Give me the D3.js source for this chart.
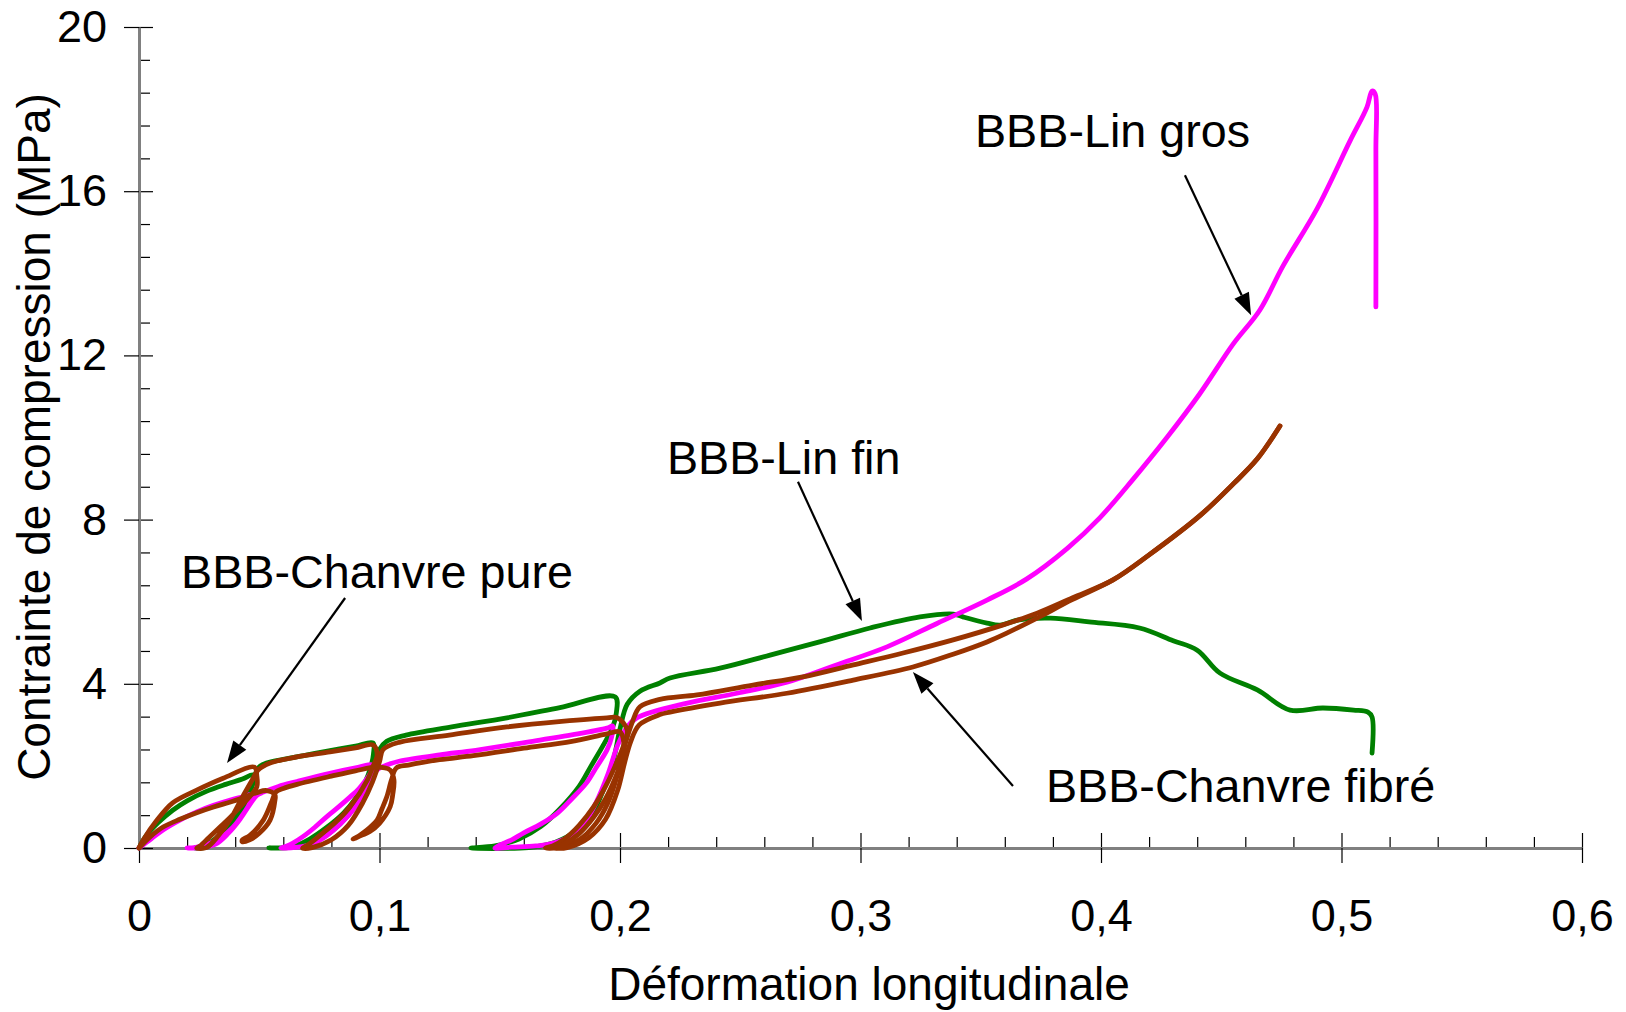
<!DOCTYPE html>
<html>
<head>
<meta charset="utf-8">
<script src="https://cdn.jsdelivr.net/npm/d3@7"></script>
<style>
  body { margin: 0; background: #fff; }
  svg { font-family: "Liberation Sans", Arial, sans-serif; }
  .axis path.domain { stroke: #808080; stroke-width: 3; }
  .axis line { stroke: #000; stroke-width: 1.2; }
  .axis text { font-size: 45px; fill: #000; }
</style>
</head>
<body>
<svg id="chart" width="1626" height="1012"></svg>
<script>
// strain, stress (MPa), in loading order (load / unload / reload)
const linFin = [
  [0,0],[0.003,0.3],[0.008,0.62],[0.014,0.92],[0.02,1.15],[0.028,1.38],[0.036,1.55],[0.043,1.68],[0.0474,1.78],
  [0.047,1.55],[0.044,1.15],[0.04,0.75],[0.035,0.4],[0.03,0.15],[0.026,0.03],[0.023,0],
  [0.027,0.01],[0.032,0.12],[0.038,0.45],[0.043,0.95],[0.047,1.5],[0.0495,1.95],[0.053,2.07],[0.06,2.16],
  [0.07,2.27],[0.08,2.38],[0.09,2.48],[0.0973,2.56],
  [0.0975,2.3],[0.0965,2.0],[0.094,1.6],[0.09,1.2],[0.085,0.85],[0.078,0.5],[0.071,0.22],[0.065,0.06],[0.06,0.01],[0.054,0],
  [0.062,0.01],[0.072,0.12],[0.08,0.4],[0.087,0.8],[0.093,1.35],[0.097,1.9],[0.1,2.4],[0.103,2.6],
  [0.111,2.75],[0.13,2.95],[0.153,3.17],[0.175,3.42],[0.198,3.68],
  [0.1985,3.3],[0.197,2.95],[0.193,2.5],[0.188,2.0],[0.183,1.5],[0.175,0.95],[0.167,0.52],[0.158,0.22],[0.148,0.05],[0.138,0],
  [0.162,0.01],[0.171,0.1],[0.18,0.35],[0.188,0.8],[0.193,1.4],[0.1975,2.2],[0.2,2.9],[0.203,3.5],[0.2083,3.82],
  [0.2166,4.02],[0.2208,4.14],[0.2416,4.38],[0.2624,4.7],[0.283,5.02],[0.304,5.36],[0.3247,5.63],[0.3385,5.7],
  [0.3426,5.63],[0.3526,5.48],[0.358,5.43],[0.366,5.56],[0.379,5.6],[0.395,5.51],[0.416,5.36],[0.43,5.05],
  [0.44,4.82],[0.4495,4.26],[0.465,3.85],[0.4786,3.36],[0.4923,3.41],[0.505,3.36],[0.511,3.31],[0.5127,3.19],[0.5127,2.31]
];

const linGros = [
  [0,0],[0.005,0.22],[0.01,0.44],[0.017,0.68],[0.024,0.88],[0.031,1.04],[0.038,1.17],[0.044,1.26],[0.046,1.3],
  [0.046,1.1],[0.043,0.8],[0.039,0.5],[0.034,0.25],[0.028,0.08],[0.023,0.01],[0.02,0],
  [0.026,0.01],[0.032,0.1],[0.037,0.35],[0.042,0.7],[0.046,1.05],[0.049,1.28],[0.0517,1.36],
  [0.058,1.5],[0.0657,1.62],[0.0794,1.82],[0.09,1.95],[0.097,2.02],
  [0.0965,1.85],[0.0915,1.45],[0.0877,1.24],[0.083,1.0],[0.078,0.76],[0.073,0.5],[0.068,0.27],[0.064,0.12],[0.0615,0.05],[0.059,0],
  [0.066,0.02],[0.072,0.1],[0.078,0.3],[0.084,0.6],[0.09,1.0],[0.095,1.5],[0.099,1.9],[0.1044,2.05],
  [0.1085,2.12],[0.125,2.27],[0.14,2.38],[0.1667,2.63],[0.1805,2.76],[0.1946,2.92],[0.197,2.97],
  [0.1965,2.7],[0.1946,2.39],[0.19,1.95],[0.186,1.58],[0.18,1.2],[0.174,0.85],[0.167,0.58],[0.16,0.37],[0.155,0.2],[0.15,0.07],[0.148,0],
  [0.155,0.02],[0.165,0.05],[0.171,0.1],[0.178,0.25],[0.185,0.6],[0.19,1.1],[0.195,1.8],[0.199,2.5],[0.203,2.95],[0.207,3.17],
  [0.228,3.53],[0.2486,3.77],[0.2694,4.04],[0.29,4.46],[0.311,4.9],[0.3318,5.47],[0.3526,6.04],[0.369,6.55],
  [0.386,7.3],[0.3996,8.05],[0.4133,8.98],[0.4274,10.0],[0.441,11.06],[0.455,12.28],[0.466,13.1],[0.4757,14.18],
  [0.4898,15.57],[0.5035,17.22],[0.5106,18.05],[0.5127,18.44],[0.514,18.37],[0.5143,16.98],[0.5143,13.18]
];

const chanvrePure = [
  [0,0],[0.0017,0.19],[0.0075,0.68],[0.014,1.1],[0.024,1.41],[0.035,1.7],[0.048,1.97],
  [0.049,1.75],[0.049,1.49],[0.046,1.25],[0.042,1.0],[0.038,0.75],[0.0337,0.51],[0.029,0.25],[0.0254,0.05],[0.024,0],
  [0.028,0.01],[0.033,0.3],[0.038,0.7],[0.043,1.24],[0.047,1.65],[0.0495,1.9],[0.0545,2.07],[0.0657,2.22],
  [0.0794,2.34],[0.09,2.44],[0.0973,2.51],
  [0.099,2.27],[0.097,1.95],[0.095,1.66],[0.0877,1.0],[0.083,0.7],[0.078,0.44],[0.073,0.2],[0.07,0.07],[0.068,0],
  [0.072,0.01],[0.08,0.2],[0.087,0.55],[0.093,1.1],[0.097,1.6],[0.1,2.1],[0.1015,2.4],[0.1085,2.58],[0.129,2.75],
  [0.153,2.95],[0.1946,3.17],[0.199,3.17],[0.203,2.87],
  [0.2015,2.5],[0.198,2.0],[0.194,1.5],[0.189,1.0],[0.183,0.55],[0.177,0.22],[0.172,0.05],[0.169,0],
  [0.174,0.01],[0.183,0.2],[0.19,0.6],[0.195,1.1],[0.199,1.8],[0.202,2.5],[0.205,3.05],[0.2083,3.44],[0.2166,3.62],
  [0.232,3.73],[0.2553,3.97],[0.276,4.17],[0.297,4.46],[0.3177,4.75],[0.3385,5.07],[0.359,5.43],[0.3734,5.72],
  [0.388,6.09],[0.405,6.53],[0.42,7.14],[0.441,8.09],[0.455,8.87],[0.465,9.48],[0.4744,10.28]
];

const chanvreFibre = [
  [0,0],[0.0046,0.27],[0.01,0.51],[0.017,0.7],[0.024,0.86],[0.031,1.0],[0.038,1.12],[0.043,1.22],[0.049,1.35],
  [0.053,1.4],[0.0565,1.3],
  [0.0565,1.15],[0.0545,0.68],[0.05,0.36],[0.046,0.2],[0.043,0.15],[0.043,0.2],
  [0.046,0.3],[0.0517,0.68],[0.055,1.1],[0.057,1.37],[0.06,1.45],
  [0.0657,1.55],[0.08,1.75],[0.09,1.88],[0.099,1.97],[0.1044,1.9],
  [0.106,1.66],[0.1055,1.3],[0.1044,1.0],[0.1,0.6],[0.096,0.4],[0.093,0.32],[0.089,0.22],
  [0.09,0.25],[0.092,0.32],[0.096,0.5],[0.099,0.68],[0.101,0.95],[0.103,1.24],[0.105,1.66],[0.107,1.95],
  [0.112,2.02],[0.125,2.15],[0.139,2.25],[0.16,2.43],[0.18,2.6],[0.1946,2.78],[0.2,2.83],
  [0.2015,2.6],[0.201,2.2],[0.198,1.7],[0.194,1.2],[0.189,0.75],[0.183,0.35],[0.177,0.1],[0.173,0],
  [0.178,0.01],[0.187,0.25],[0.194,0.7],[0.199,1.4],[0.202,2.1],[0.2045,2.6],[0.208,3.0],[0.2166,3.25],[0.2208,3.31],
  [0.2416,3.53],[0.2694,3.77],[0.297,4.09],[0.3218,4.41],[0.3385,4.72],[0.3526,5.02],[0.361,5.24],[0.3734,5.6],
  [0.388,6.05],[0.405,6.53],[0.42,7.14],[0.441,8.09],[0.455,8.87],[0.465,9.48],[0.4744,10.28]
];

const seriesNames = ["BBB-Lin fin", "BBB-Lin gros", "BBB-Chanvre pure", "BBB-Chanvre fibré"];
const seriesColors = ["#008000", "#ff00ff", "#993300", "#993300"];

const xTicks = [0, 0.1, 0.2, 0.3, 0.4, 0.5, 0.6];
const yTicks = [0, 4, 8, 12, 16, 20];

// annotations: label anchor and arrow (from -> tip), in data units
const labelNames = ["BBB-Lin gros", "BBB-Lin fin", "BBB-Chanvre pure", "BBB-Chanvre fibré"];
const labelPos = [[0.3476, 17.08], [0.2195, 9.11], [0.0175, 6.33], [0.3771, 1.12]];
const arrowFrom = [[0.4349, 16.39], [0.274, 8.92], [0.0857, 6.09], [0.3634, 1.51]];
const arrowTo = [[0.4624, 12.98], [0.3006, 5.53], [0.0366, 2.07], [0.3218, 4.29]];

const svg = d3.select("#chart");
svg.append("rect").attr("width", 1626).attr("height", 1012).attr("fill", "#fff");

const x = d3.scaleLinear().domain([0, 0.6]).range([139, 1582]);
const y = d3.scaleLinear().domain([0, 20]).range([848, 27]);

const fmt = d => d === 0 ? "0" : String(d3.format(".1f")(d)).replace(".", ",");
const yfmt = d => String(d);

// minor ticks
const xMinor = d3.range(0, 0.6001, 0.02).map(d => +d.toFixed(2)).filter(d => !xTicks.some(t => Math.abs(t - d) < 1e-6));
const yMinor = d3.range(0, 20.001, 0.8).map(d => +d.toFixed(1)).filter(d => !yTicks.some(t => Math.abs(t - d) < 1e-6));

const gAxes = svg.append("g");

gAxes.append("g").attr("class", "axis").attr("transform", "translate(0,848)")
  .call(d3.axisTop(x).tickValues(xMinor).tickSize(11).tickFormat(""))
  .call(g => g.select(".domain").remove());
gAxes.append("g").attr("class", "axis").attr("transform", "translate(0,848)")
  .call(d3.axisTop(x).tickValues(xTicks).tickSize(15).tickFormat(""))
  .call(g => g.select(".domain").remove());
gAxes.append("g").attr("class", "axis").attr("transform", "translate(0,848)")
  .call(d3.axisBottom(x).tickValues(xTicks).tickSize(15).tickSizeOuter(0).tickPadding(36).tickFormat(fmt));

gAxes.append("g").attr("class", "axis").attr("transform", "translate(139,0)")
  .call(d3.axisRight(y).tickValues(yMinor).tickSize(11).tickFormat(""))
  .call(g => g.select(".domain").remove());
gAxes.append("g").attr("class", "axis").attr("transform", "translate(139,0)")
  .call(d3.axisRight(y).tickValues(yTicks).tickSize(14).tickFormat(""))
  .call(g => g.select(".domain").remove());
gAxes.append("g").attr("class", "axis").attr("transform", "translate(139,0)")
  .call(d3.axisLeft(y).tickValues(yTicks).tickSize(15).tickSizeOuter(0).tickPadding(17).tickFormat(yfmt));

// axis titles
svg.append("text")
  .attr("x", 869).attr("y", 1000)
  .attr("text-anchor", "middle")
  .style("font-size", "46px")
  .text("Déformation longitudinale");

svg.append("text")
  .attr("transform", "translate(50,437) rotate(-90)")
  .attr("text-anchor", "middle")
  .style("font-size", "46px")
  .text("Contrainte de compression (MPa)");

// curves
const line = d3.line()
  .x(d => x(d[0]))
  .y(d => y(d[1]))
  .curve(d3.curveCatmullRom.alpha(0.5));

const allSeries = [linFin, linGros, chanvrePure, chanvreFibre];

svg.append("g").selectAll("path.curve")
  .data(allSeries)
  .enter()
  .append("path")
  .attr("class", "curve")
  .attr("d", line)
  .attr("fill", "none")
  .attr("stroke", (d, i) => seriesColors[i])
  .attr("stroke-width", 4.8)
  .attr("stroke-linejoin", "round")
  .attr("stroke-linecap", "round")
  .append("title").text((d, i) => seriesNames[i]);

// annotations
const ann = svg.append("g");

labelNames.forEach(function(name, i) {
  ann.append("text")
    .attr("x", x(labelPos[i][0]))
    .attr("y", y(labelPos[i][1]))
    .style("font-size", "46.7px")
    .text(name);

  let x1 = x(arrowFrom[i][0]), y1 = y(arrowFrom[i][1]);
  let x2 = x(arrowTo[i][0]), y2 = y(arrowTo[i][1]);
  let len = Math.hypot(x2 - x1, y2 - y1);
  let ux = (x2 - x1) / len, uy = (y2 - y1) / len;
  let headL = 22, headW = 8;
  let bx = x2 - ux * headL, by = y2 - uy * headL;

  ann.append("line")
    .attr("x1", x1).attr("y1", y1)
    .attr("x2", bx).attr("y2", by)
    .attr("stroke", "#000")
    .attr("stroke-width", 2.2);

  ann.append("polygon")
    .attr("points", [
      [x2, y2],
      [bx - uy * headW, by + ux * headW],
      [bx + uy * headW, by - ux * headW]
    ].map(p => p.join(",")).join(" "))
    .attr("fill", "#000");
});
</script>
</body>
</html>
